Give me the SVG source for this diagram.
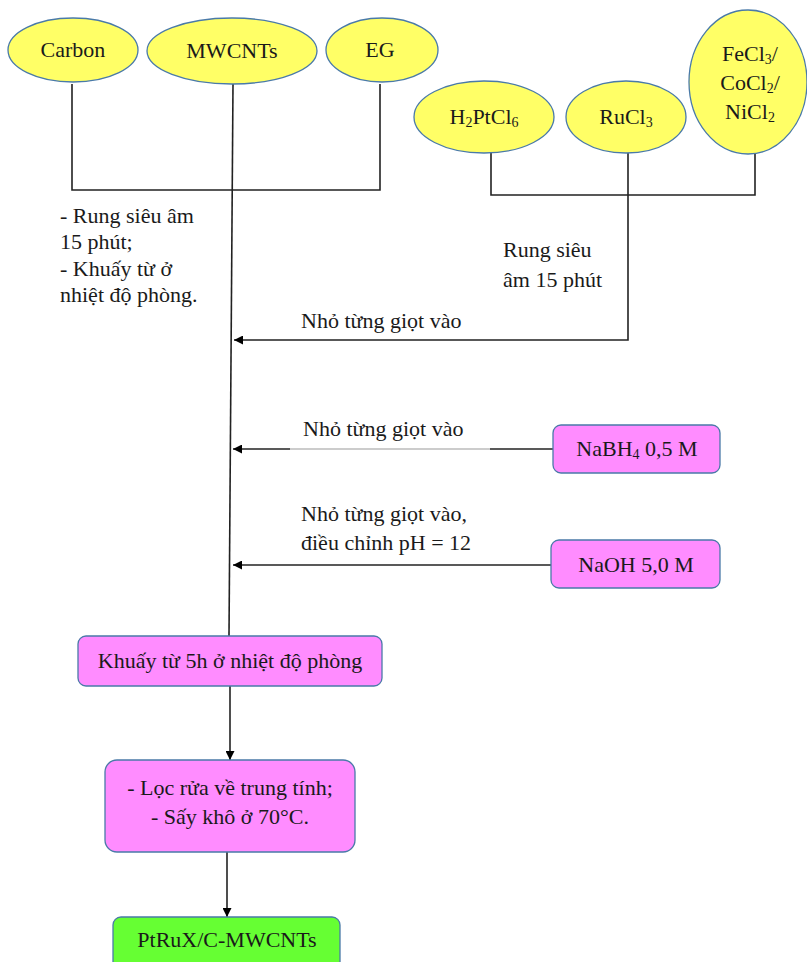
<svg xmlns="http://www.w3.org/2000/svg" width="807" height="962" viewBox="0 0 807 962">
<defs>
<marker id="ah" viewBox="0 0 10 10" refX="10" refY="5" markerWidth="9" markerHeight="9" markerUnits="userSpaceOnUse" orient="auto">
<path d="M0,0 L10,5 L0,10 z" fill="#000"/>
</marker>
<style>
text{font-family:"Liberation Serif","Times New Roman","DejaVu Serif",serif;font-size:22px;fill:#1a1a1a}
.c{text-anchor:middle}
.sub{font-size:14px}
.ell{fill:#FFFF66;stroke:#4a7aa8;stroke-width:1.3}
.pink{fill:#FF8CFF;stroke:#4a7aa8;stroke-width:1.3}
.green{fill:#66FF33;stroke:#4a7aa8;stroke-width:1.3}
.ln{fill:none;stroke:#222;stroke-width:1.6}
</style>
</defs>
<g id="connectors">
<polyline class="ln" points="72,84 72,190 380,190 380,84"/>
<line class="ln" x1="233" y1="84" x2="229" y2="636"/>
<polyline class="ln" points="491,153 491,195 755,195 755,153"/>
<polyline class="ln" points="628,153 628,340 234,340" marker-end="url(#ah)"/>
<line class="ln" x1="490" y1="449" x2="553" y2="449"/>
<line x1="290" y1="449" x2="490" y2="449" stroke="#999" stroke-width="1"/>
<line class="ln" x1="290" y1="449" x2="233" y2="449" marker-end="url(#ah)"/>
<line class="ln" x1="551" y1="565" x2="233" y2="565" marker-end="url(#ah)"/>
<line class="ln" x1="230" y1="686" x2="230" y2="760" marker-end="url(#ah)"/>
<line class="ln" x1="227" y1="852" x2="227" y2="917" marker-end="url(#ah)"/>
</g>
<g id="carbon"><ellipse class="ell" cx="73" cy="50" rx="65" ry="32"/><text class="c" x="73" y="57">Carbon</text></g>
<g id="mwcnts"><ellipse class="ell" cx="232" cy="51" rx="85" ry="33"/><text class="c" x="232" y="58">MWCNTs</text></g>
<g id="eg"><ellipse class="ell" cx="382" cy="50" rx="56" ry="32"/><text class="c" x="380" y="57">EG</text></g>
<g id="h2ptcl6"><ellipse class="ell" cx="484" cy="117" rx="70" ry="36"/><text class="c" x="484" y="124">H<tspan class="sub" dy="3">2</tspan><tspan dy="-3">PtCl</tspan><tspan class="sub" dy="3">6</tspan></text></g>
<g id="rucl3"><ellipse class="ell" cx="626" cy="117" rx="60" ry="36"/><text class="c" x="626" y="124">RuCl<tspan class="sub" dy="3">3</tspan></text></g>
<g id="metal"><ellipse class="ell" cx="748" cy="82" rx="59" ry="72"/>
<text class="c" x="750" y="61">FeCl<tspan class="sub" dy="3">3</tspan><tspan dy="-3">/</tspan></text>
<text class="c" x="750" y="90">CoCl<tspan class="sub" dy="3">2</tspan><tspan dy="-3">/</tspan></text>
<text class="c" x="750" y="119">NiCl<tspan class="sub" dy="3">2</tspan></text></g>
<g id="label-left">
<text x="60" y="223">- Rung siêu âm</text>
<text x="60" y="249">15 phút;</text>
<text x="60" y="276">- Khuấy từ ở</text>
<text x="60" y="302">nhiệt độ phòng.</text>
</g>
<g id="label-right">
<text x="503" y="257">Rung siêu</text>
<text x="503" y="287">âm 15 phút</text>
</g>
<text x="301" y="328">Nhỏ từng giọt vào</text>
<text x="303" y="436">Nhỏ từng giọt vào</text>
<text x="301" y="521">Nhỏ từng giọt vào,</text>
<text x="301" y="550">điều chỉnh pH = 12</text>
<g id="nabh4"><rect class="pink" x="553" y="425" width="167" height="48" rx="8"/><text class="c" x="637" y="456">NaBH<tspan class="sub" dy="3">4</tspan><tspan dy="-3"> 0,5 M</tspan></text></g>
<g id="naoh"><rect class="pink" x="551" y="540" width="169" height="48" rx="8"/><text class="c" x="636" y="572">NaOH 5,0 M</text></g>
<g id="khuay"><rect class="pink" x="78" y="636" width="304" height="50" rx="8"/><text class="c" x="230" y="668">Khuấy từ 5h ở nhiệt độ phòng</text></g>
<g id="loc"><rect class="pink" x="105" y="760" width="250" height="92" rx="12"/>
<text class="c" x="230" y="795">- Lọc rửa về trung tính;</text>
<text class="c" x="230" y="824">- Sấy khô ở 70°C.</text></g>
<g id="product"><rect class="green" x="113" y="917" width="227" height="60" rx="8"/><text class="c" x="227" y="947">PtRuX/C-MWCNTs</text></g>
</svg>
